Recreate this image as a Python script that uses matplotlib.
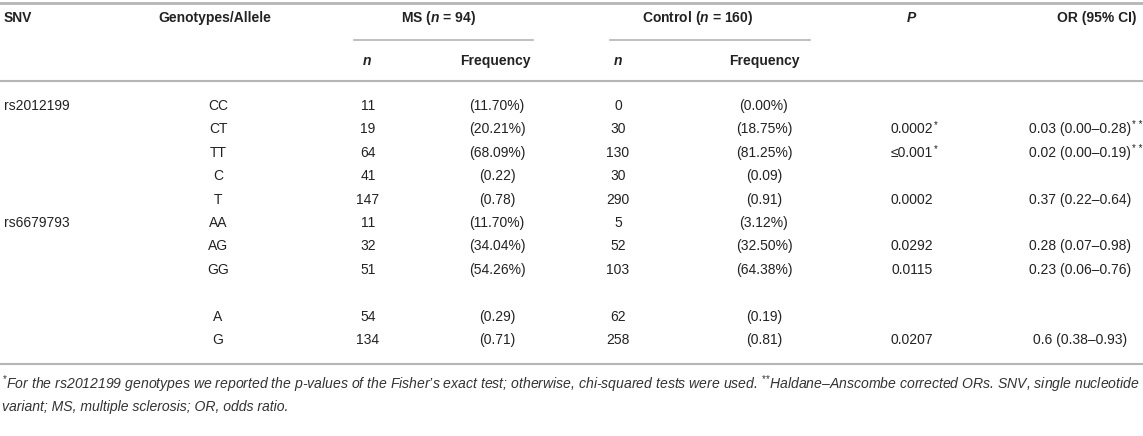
import matplotlib
matplotlib.use("Agg")
import matplotlib.pyplot as plt

plt.rcParams['font.family'] = ['Liberation Sans', 'DejaVu Sans']
plt.rcParams['mathtext.fontset'] = 'custom'
plt.rcParams['mathtext.rm'] = 'Liberation Sans'
plt.rcParams['mathtext.it'] = 'Liberation Sans:italic'
plt.rcParams['mathtext.bf'] = 'Liberation Sans:bold'
plt.rcParams['mathtext.bfit'] = 'Liberation Sans:italic:bold'

# table content
snv = ['rs2012199', '', '', '', '', 'rs6679793', '', '', '', '', '']
geno = ['CC', 'CT', 'TT', 'C', 'T', 'AA', 'AG', 'GG', '', 'A', 'G']
ms_n = ['11', '19', '64', '41', '147', '11', '32', '51', '', '54', '134']
ms_freq = ['(11.70%)', '(20.21%)', '(68.09%)', '(0.22)', '(0.78)',
           '(11.70%)', '(34.04%)', '(54.26%)', '', '(0.29)', '(0.71)']
ctrl_n = ['0', '30', '130', '30', '290', '5', '52', '103', '', '62', '258']
ctrl_freq = ['(0.00%)', '(18.75%)', '(81.25%)', '(0.09)', '(0.91)',
             '(3.12%)', '(32.50%)', '(64.38%)', '', '(0.19)', '(0.81)']
p_val = ['', '0.0002*', '\u22640.001*', '', '0.0002', '', '0.0292', '0.0115', '', '', '0.0207']
odds = ['', '0.03 (0.00\u20130.28)**', '0.02 (0.00\u20130.19)**', '', '0.37 (0.22\u20130.64)',
        '', '0.28 (0.07\u20130.98)', '0.23 (0.06\u20130.76)', '', '', '0.6 (0.38\u20130.93)']

header1 = ['SNV', 'Genotypes/Allele', r'MS ($\mathbfit{n}$ = 94)', r'Control ($\mathbfit{n}$ = 160)',
           r'$\mathbfit{P}$', 'OR (95% CI)']
header2 = [r'$\mathbfit{n}$', 'Frequency', r'$\mathbfit{n}$', 'Frequency']

note1 = ("$^{*}$For the rs2012199 genotypes we reported the p-values of the Fisher\u2019s exact test; "
         "otherwise, chi-squared tests were used. $^{{*}{*}}$Haldane\u2013Anscombe corrected ORs. "
         "SNV, single nucleotide")
note2 = "variant; MS, multiple sclerosis; OR, odds ratio."

W, H = 1143, 436
fig = plt.figure(figsize=(W / 100, H / 100), dpi=100)
ax = fig.add_axes([0, 0, 1, 1])
ax.set_xlim(0, W)
ax.set_ylim(H, 0)
ax.axis('off')
renderer = fig.canvas.get_renderer()

txt = '#222222'
line_c = '#b5b5b5'
fs = 10


def cell(x, y, s):
    # centred value, trailing stars added as small superscript
    base = s.rstrip('*')
    stars = s[len(base):]
    t = ax.text(x, y, base, ha='center', va='center', fontsize=fs, color=txt)
    if stars:
        bb = t.get_window_extent(renderer)
        x1 = ax.transData.inverted().transform((bb.x1, bb.y1))[0]
        ax.text(x1 + 1, y - 4, ' '.join(stars), ha='left', va='center',
                fontsize=7, color=txt)


# rules
ax.plot([0, W], [3, 3], color=line_c, lw=2)
ax.plot([354, 533], [40, 40], color=line_c, lw=1.2)
ax.plot([610, 810], [40, 40], color=line_c, lw=1.2)
ax.plot([0, W], [81, 81], color=line_c, lw=1.5)
ax.plot([0, W], [364, 364], color=line_c, lw=1.5)

# headers
hy1, hy2 = 18, 61
ax.text(4, hy1, header1[0], ha='left', va='center', fontsize=fs, fontweight='bold', color=txt)
ax.text(215, hy1, header1[1], ha='center', va='center', fontsize=fs, fontweight='bold', color=txt)
ax.text(438, hy1, header1[2], ha='center', va='center', fontsize=fs, fontweight='bold', color=txt)
ax.text(698, hy1, header1[3], ha='center', va='center', fontsize=fs, fontweight='bold', color=txt)
ax.text(912, hy1, header1[4], ha='center', va='center', fontsize=fs, fontweight='bold', color=txt)
ax.text(1097, hy1, header1[5], ha='center', va='center', fontsize=fs, fontweight='bold', color=txt)

sub_x = [367, 495, 618, 764]
for x, h in zip(sub_x, header2):
    ax.text(x, hy2, h, ha='center', va='center', fontsize=fs, fontweight='bold', color=txt)

# body
y0, dy = 106, 23.4
cols = [(geno, 218), (ms_n, 368), (ms_freq, 497), (ctrl_n, 618),
        (ctrl_freq, 764), (p_val, 912), (odds, 1080)]
for i in range(len(geno)):
    y = y0 + i * dy
    if snv[i]:
        ax.text(4, y, snv[i], ha='left', va='center', fontsize=fs, color=txt)
    for vals, x in cols:
        if vals[i]:
            cell(x, y, vals[i])

# footnote
ax.text(2, 384, note1, ha='left', va='center', fontsize=10.1, style='italic', color='#333333')
ax.text(2, 407, note2, ha='left', va='center', fontsize=10.1, style='italic', color='#333333')

fig.savefig('out.png', dpi=100, facecolor='white')
